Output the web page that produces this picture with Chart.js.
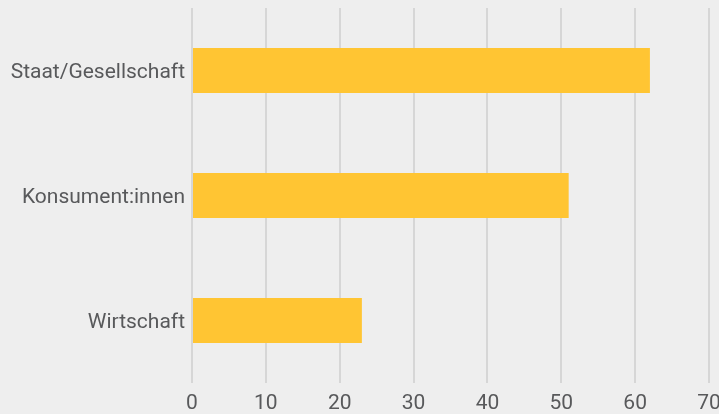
<!DOCTYPE html>
<html>
<head>
<meta charset="utf-8">
<script src="https://cdn.jsdelivr.net/npm/chart.js@4/dist/chart.umd.min.js"></script>
<style>
html,body{margin:0;padding:0;background:#eeeeee;overflow:hidden;}
#wrap{width:719px;height:414px;position:relative;}
</style>
</head>
<body>
<div id="wrap"><canvas id="c"></canvas></div>
<script>
const categories = ["Staat/Gesellschaft", "Konsument:innen", "Wirtschaft"];
const values = [62, 51, 23];
const xTicks = [0, 10, 20, 30, 40, 50, 60, 70];

const FONT = { family: 'Roboto', size: 21 };

new Chart(document.getElementById('c'), {
  type: 'bar',
  data: {
    labels: categories,
    datasets: [{
      data: values,
      backgroundColor: '#ffc533',
      borderWidth: 0,
      barPercentage: 0.36,
      categoryPercentage: 1
    }]
  },
  options: {
    indexAxis: 'y',
    responsive: true,
    maintainAspectRatio: false,
    animation: false,
    layout: { padding: { top: 8, bottom: 0, left: 0, right: 0 } },
    plugins: { legend: { display: false }, tooltip: { enabled: false } },
    scales: {
      x: {
        min: 0, max: 70,
        afterBuildTicks: s => { s.ticks = xTicks.map(v => ({ value: v })); },
        afterFit: s => { s.height = 31; s.paddingRight = 10; s.paddingLeft = 0; },
        grid: { color: '#d6d6d6', lineWidth: 2, drawTicks: false },
        border: { display: false },
        ticks: { color: '#58595b', font: FONT, padding: 8, maxRotation: 0 }
      },
      y: {
        afterFit: s => { s.width = 192; s.paddingTop = 0; s.paddingBottom = 0; },
        grid: { display: false, drawTicks: false },
        border: { display: false },
        ticks: { color: '#58595b', font: FONT, padding: 7, labelOffset: 2 }
      }
    }
  }
});
</script>
</body>
</html>
